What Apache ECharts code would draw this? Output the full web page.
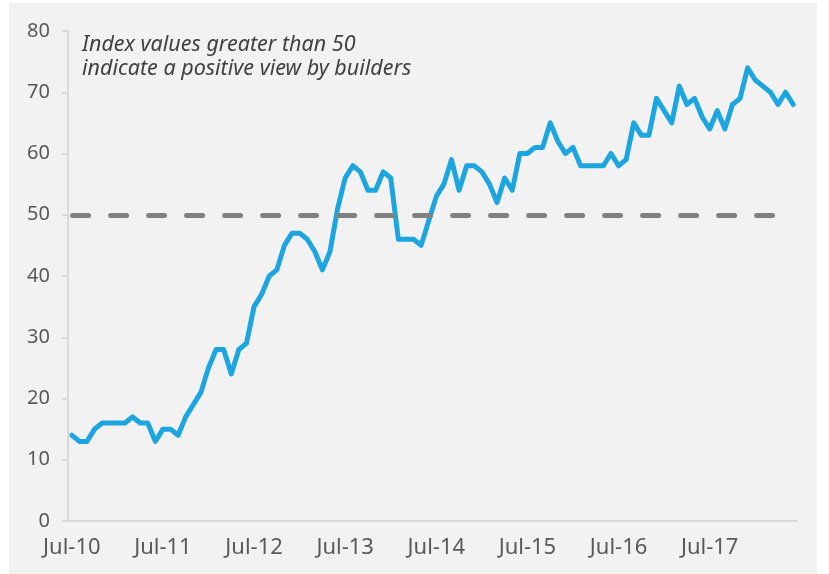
<!DOCTYPE html>
<html>
<head>
<meta charset="utf-8">
<script src="https://cdn.jsdelivr.net/npm/echarts@6/dist/echarts.min.js"></script>
<style>
  html, body { margin: 0; padding: 0; background: #ffffff; }
  #chart { position: absolute; left: 9px; top: 3px; width: 808px; height: 571px; background: #f2f2f2; }
</style>
</head>
<body>
<div id="chart"></div>
<script>
// monthly categories, Jul-10 .. Jun-18
const startYear = 2010, startMonth = 6, monthCount = 96
const monthNames = ['Jan', 'Feb', 'Mar', 'Apr', 'May', 'Jun', 'Jul', 'Aug', 'Sep', 'Oct', 'Nov', 'Dec']
const months = []
for (let i = 0; i < monthCount; i++) {
  const m = (startMonth + i) % 12
  const y = startYear + Math.floor((startMonth + i) / 12)
  months.push(monthNames[m] + '-' + String(y).slice(2))
}

// builder sentiment index
const indexValues = [
  14, 13, 13, 15, 16, 16, 16, 16, 17, 16, 16, 13,
  15, 15, 14, 17, 19, 21, 25, 28, 28, 24, 28, 29,
  35, 37, 40, 41, 45, 47, 47, 46, 44, 41, 44, 51,
  56, 58, 57, 54, 54, 57, 56, 46, 46, 46, 45, 49,
  53, 55, 59, 54, 58, 58, 57, 55, 52, 56, 54, 60,
  60, 61, 61, 65, 62, 60, 61, 58, 58, 58, 58, 60,
  58, 59, 65, 63, 63, 69, 67, 65, 71, 68, 69, 66,
  64, 67, 64, 68, 69, 74, 72, 71, 70, 68, 70, 68
]
const threshold = 50
const noteLines = ['Index values greater than 50', 'indicate a positive view by builders']

const textColor = '#595959'
const font = 'Noto Sans'

const myChart = echarts.init(document.getElementById('chart'))
myChart.setOption({
  animation: false,
  backgroundColor: '#f2f2f2',
  title: {
    text: noteLines.join('\n'),
    left: 73,
    top: 30,
    padding: 0,
    textStyle: {
      fontFamily: font,
      fontStyle: 'italic',
      fontWeight: 'normal',
      fontSize: 21.5,
      lineHeight: 24,
      color: '#404040'
    }
  },
  grid: { left: 59, right: 20, top: 28, bottom: 53 },
  xAxis: {
    type: 'category',
    data: months,
    boundaryGap: true,
    axisLine: { lineStyle: { color: '#d9d9d9', width: 2 } },
    axisTick: { interval: 11, length: 6, lineStyle: { color: '#d9d9d9', width: 2 } },
    axisLabel: { interval: 11, color: textColor, fontFamily: font, fontSize: 22, margin: 16 }
  },
  yAxis: {
    type: 'value',
    min: 0,
    max: 80,
    interval: 10,
    splitLine: { show: false },
    axisLine: { show: true, lineStyle: { color: '#d9d9d9', width: 2 } },
    axisTick: { show: true, length: 6, lineStyle: { color: '#d9d9d9', width: 2 } },
    axisLabel: { color: textColor, fontFamily: font, fontSize: 20, margin: 18 }
  },
  series: [{
    type: 'line',
    data: indexValues,
    symbol: 'none',
    lineStyle: { color: '#1ca5de', width: 5, join: 'round', cap: 'round' },
    markLine: {
      silent: true,
      symbol: 'none',
      label: { show: false },
      lineStyle: { color: '#808080', width: 5, type: [16, 22], dashOffset: 37.2, cap: 'round' },
      data: [[{ coord: [0, threshold] }, { coord: [monthCount - 1, threshold] }]]
    }
  }]
})
window.onresize = () => {
  myChart.resize()
}
</script>
</body>
</html>
